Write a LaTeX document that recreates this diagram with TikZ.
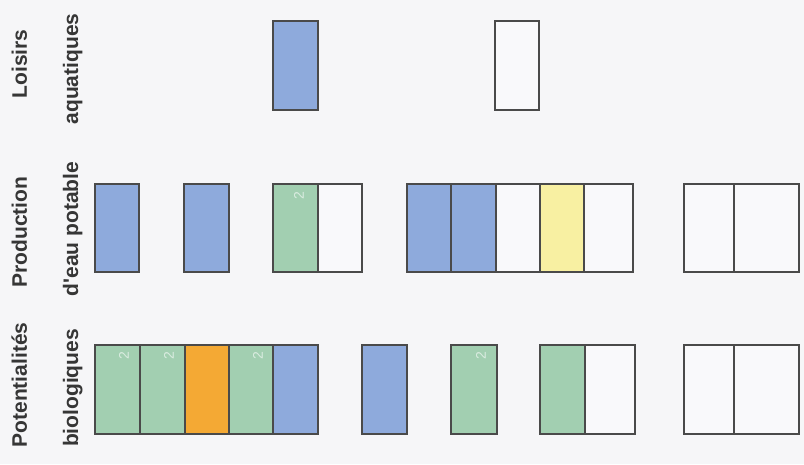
\documentclass[tikz,border=0pt]{standalone}
\usepackage{fontspec}
\setmainfont{Liberation Sans}
\definecolor{bgc}{HTML}{F6F6F8}
\definecolor{linec}{HTML}{4A4A4A}
\definecolor{labc}{HTML}{363636}
\definecolor{cblue}{HTML}{8EAADC}
\definecolor{cgreen}{HTML}{A2CFB1}
\definecolor{corange}{HTML}{F4A934}
\definecolor{cyellow}{HTML}{F8F0A2}
\definecolor{cwhite}{HTML}{F9F9FB}
\begin{document}
\begin{tikzpicture}[x=1pt,y=-1pt,
  cell/.style={draw=linec,line width=1.3pt,inner sep=0pt,outer sep=0pt,anchor=north west,minimum height=89pt,fill=cwhite},
  lab/.style={rotate=90,anchor=base,inner sep=0pt,text=labc,font=\bfseries\fontsize{21}{24}\selectfont},
  two/.style={rotate=90,inner sep=0pt,text=white,opacity=0.6,font=\fontsize{14}{14}\selectfont}]
\fill[bgc] (0,0) rectangle (804,464);
\useasboundingbox (0,0) rectangle (804,464);
% labels
\node[lab] (t1) at (27,64) {Loisirs};
\node[lab] (t2) at (78,69) {aquatiques};
\node[lab] (t3) at (27,232) {Production};
\node[lab] (t4) at (78,229) {d\textquotesingle eau potable};
\node[lab] (t5) at (27,385) {Potentialités};
\node[lab] (t6) at (78,388) {biologiques};
% row 1
\node[cell,minimum width=45pt,fill=cblue] (l1) at (273,21) {};
\node[cell,minimum width=44pt] (l2) at (495,21) {};
% row 2
\node[cell,minimum width=44pt,minimum height=88pt,fill=cblue] (p1) at (95,184) {};
\node[cell,minimum width=45pt,minimum height=88pt,fill=cblue] (p2) at (184,184) {};
\node[cell,minimum width=45pt,minimum height=88pt,fill=cgreen] (p3) at (273,184) {};
\node[cell,minimum width=44pt,minimum height=88pt] (p4) at (318,184) {};
\node[cell,minimum width=44pt,minimum height=88pt,fill=cblue] (p5) at (407,184) {};
\node[cell,minimum width=45pt,minimum height=88pt,fill=cblue] (p6) at (451,184) {};
\node[cell,minimum width=44pt,minimum height=88pt] (p7) at (496,184) {};
\node[cell,minimum width=44pt,minimum height=88pt,fill=cyellow] (p8) at (540,184) {};
\node[cell,minimum width=49pt,minimum height=88pt] (p9) at (584,184) {};
\node[cell,minimum width=50pt,minimum height=88pt] (p10) at (684,184) {};
\node[cell,minimum width=65pt,minimum height=88pt] (p11) at (734,184) {};
% row 3
\node[cell,minimum width=45pt,fill=cgreen] (b1) at (95,345) {};
\node[cell,minimum width=45pt,fill=cgreen] (b2) at (140,345) {};
\node[cell,minimum width=44pt,fill=corange] (b3) at (185,345) {};
\node[cell,minimum width=44pt,fill=cgreen] (b4) at (229,345) {};
\node[cell,minimum width=45pt,fill=cblue] (b5) at (273,345) {};
\node[cell,minimum width=45pt,fill=cblue] (b6) at (362,345) {};
\node[cell,minimum width=46pt,fill=cgreen] (b7) at (451,345) {};
\node[cell,minimum width=45pt,fill=cgreen] (b8) at (540,345) {};
\node[cell,minimum width=50pt] (b9) at (585,345) {};
\node[cell,minimum width=50pt] (b10) at (684,345) {};
\node[cell,minimum width=65pt] (b11) at (734,345) {};
% faint marks
\node[two] (m1) at (124,356) {2};
\node[two] (m2) at (169,356) {2};
\node[two] (m3) at (258,356) {2};
\node[two] (m4) at (299,196) {2};
\node[two] (m5) at (481,356) {2};
\end{tikzpicture}
\end{document}
